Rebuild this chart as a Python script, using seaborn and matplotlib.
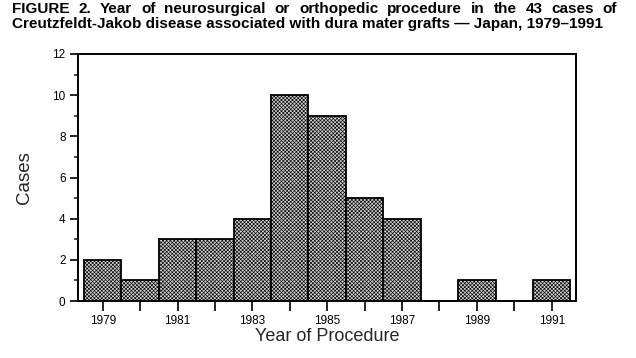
import matplotlib
matplotlib.use("Agg")
import matplotlib.pyplot as plt
import seaborn as sns
import numpy as np
from matplotlib.ticker import MultipleLocator, FixedLocator, FuncFormatter

years = [1979, 1980, 1981, 1982, 1983, 1984, 1985, 1986, 1987, 1988, 1989, 1990, 1991]
cases = [2, 1, 3, 3, 4, 10, 9, 5, 4, 0, 1, 0, 1]
title_lines = ["FIGURE 2. Year of neurosurgical or orthopedic procedure in the 43 cases of",
               "Creutzfeldt-Jakob disease associated with dura mater grafts \u2014 Japan, 1979\u20131991"]
xlabel = "Year of Procedure"
ylabel = "Cases"

sns.set_style("ticks")
plt.rcParams['font.family'] = ['Liberation Sans', 'DejaVu Sans']
plt.rcParams['hatch.linewidth'] = 0.45
plt.rcParams['hatch.color'] = 'black'

W, H = 636, 358
fig = plt.figure(figsize=(W / 100, H / 100), dpi=100)
ax = fig.add_axes([78 / W, 1 - 301 / H, (576 - 78) / W, (301 - 54) / H])

sns.histplot(x=years, weights=cases, discrete=True, ax=ax,
             color='white', edgecolor='black', linewidth=1.3, alpha=1)
for p in ax.patches:
    p.set_hatch('xxxxxxxxx')
    p.set_facecolor('#d0d0d0')

ax.set_xlim(1978.34, 1991.65)
ax.set_ylim(0, 12)
ax.xaxis.set_major_locator(FixedLocator(years))
ax.xaxis.set_major_formatter(FuncFormatter(lambda v, p: f"{int(round(v))}" if int(round(v)) % 2 == 1 else ""))
ax.yaxis.set_major_locator(MultipleLocator(2))
ax.yaxis.set_minor_locator(MultipleLocator(1))
ax.tick_params(axis='x', which='major', length=7, width=1.2, labelsize=8.5, pad=3, colors='black')
ax.tick_params(axis='y', which='major', length=6, width=1.2, labelsize=8.5, pad=3, colors='black')
ax.tick_params(axis='y', which='minor', length=3, width=1.2)
for s in ax.spines.values():
    s.set_visible(True)
    s.set_linewidth(1.4)
    s.set_color('black')
ax.set_xlabel(xlabel, fontsize=13, labelpad=1)
ax.set_ylabel(ylabel, fontsize=13.5, labelpad=14)
ax.grid(False)

# Title (justified first line)
fig.canvas.draw()
r = fig.canvas.get_renderer()
fs = 10
t = fig.text(0, 0, title_lines[1], fontsize=fs, fontweight='bold')
w = t.get_window_extent(r).width
t.remove()
fs = fs * 590 / w

x0, x1 = 12, 617
words = title_lines[0].split(' ')
widths = []
for wd in words:
    tt = fig.text(0, 0, wd, fontsize=fs, fontweight='bold')
    widths.append(tt.get_window_extent(r).width)
    tt.remove()
gap = (x1 - x0 - sum(widths)) / (len(words) - 1)
x = x0
for wd, ww in zip(words, widths):
    fig.text(x / W, 1 - 13 / H, wd, fontsize=fs, fontweight='bold', va='baseline', ha='left', color='black')
    x += ww + gap
fig.text(x0 / W, 1 - 28 / H, title_lines[1], fontsize=fs, fontweight='bold', va='baseline', ha='left', color='black')

fig.savefig("out.png", dpi=100)
